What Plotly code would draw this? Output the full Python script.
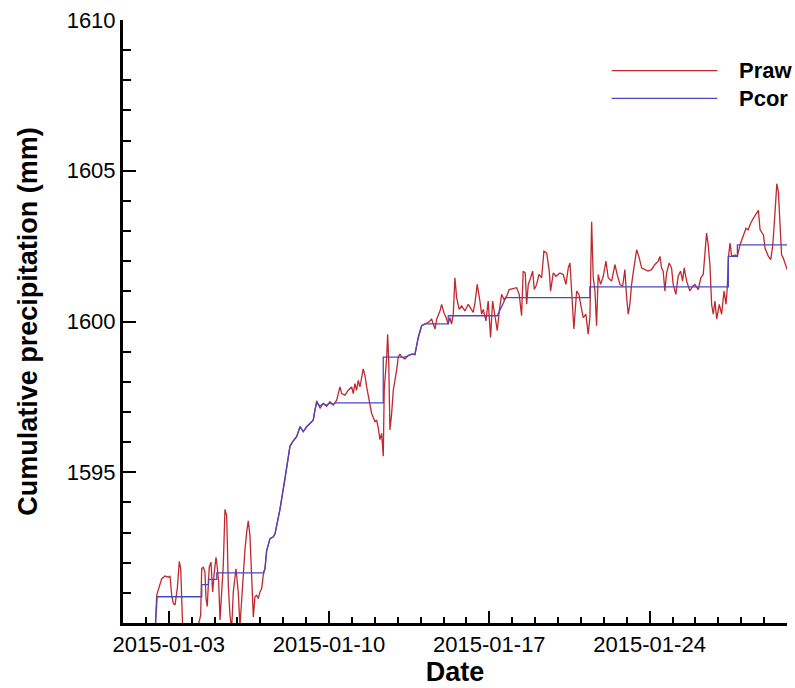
import pandas as pd
import plotly.graph_objects as go

# ---- data (hours since 2015-01-01 00:00, cumulative precipitation in mm) ----
praw_hours = [
    33.5, 35.3, 40.6, 44.0, 47.5, 49.3, 51.0, 52.7, 54.5, 56.9, 59.0, 60.5, 62.6, 70.2, 76.5,
    81.4, 82.5, 84.2, 85.9, 87.0, 88.3, 90.4, 92.2, 94.0, 95.7, 97.5, 98.8, 100.3, 101.7, 103.4,
    105.1, 106.9, 108.7, 110.4, 112.1, 113.9, 115.6, 118.4, 120.8, 122.6, 125.4, 127.9, 129.6,
    131.3, 133.1, 134.9, 136.6, 138.3, 140.1, 141.8, 143.6, 145.4, 147.0,
    148.8, 150.6, 154.1, 157.5, 159.3, 164.5, 169.8, 175.0, 177.9, 182.0, 185.5, 189.0, 192.5,
    196.0, 199.4, 201.2, 203.0, 206.5, 209.9, 213.5, 216.9, 220.4, 222.2,
    224.0, 227.4, 229.2, 232.7, 236.1, 239.7, 241.4, 243.1, 244.9, 246.6, 248.4, 251.8, 253.6,
    255.4, 258.9, 260.6, 264.1, 265.9, 267.6, 269.3, 271.1, 272.8, 273.8, 276.4, 277.4, 278.5,
    279.8, 281.6, 283.3, 285.1, 286.8, 288.5, 290.3, 292.1, 295.5, 299.0, 302.6, 306.0, 309.5,
    313.0, 316.5, 320.0, 323.5, 327.0, 328.8, 332.2, 334.0, 336.4, 339.2, 340.9, 342.7, 344.4,
    346.2, 347.9, 349.7, 352.4, 354.9, 358.4, 361.9, 365.4, 367.1, 368.9, 371.3, 374.1, 375.9,
    377.6, 380.4, 382.8, 385.3, 387.4, 389.9, 392.3, 394.4,
    396.9, 399.3, 402.2, 404.8, 409.0, 412.6, 415.3, 417.8, 419.5, 421.6, 423.1, 424.8, 427.3,
    429.4, 431.1, 433.6, 436.0, 438.8, 441.2, 444.1, 446.8, 448.2, 451.0, 453.8, 458.0, 461.4,
    464.3, 466.7, 468.5, 470.2, 472.6, 475.5, 477.9, 480.0, 482.4, 485.2, 487.6, 489.4, 491.2,
    492.9, 494.7, 496.4, 498.1, 500.6, 503.4, 506.2, 508.6, 512.2, 515.6, 518.0, 520.9, 523.7,
    526.1, 527.9, 529.6, 531.3, 533.1, 535.5, 538.4, 541.1, 543.6, 547.1, 550.5, 554.1, 557.5,
    561.0,
    562.8, 564.5, 566.2, 568.0, 569.8, 572.5, 575.0, 576.7, 579.5, 581.9, 584.5, 586.6, 588.2,
    590.8, 594.2, 597.1, 599.5, 603.0, 605.7, 608.2, 610.0, 611.7, 613.4, 615.2, 617.0, 618.7,
    620.5, 622.3, 625.0, 627.5, 630.0, 632.1, 633.4, 634.5, 636.3, 638.0, 641.5, 643.9, 646.7,
    650.2, 653.0, 655.4, 657.9, 660.7, 664.3, 666.0, 667.8, 671.3, 673.0, 676.5, 679.0, 681.1,
    683.5, 685.3, 687.0, 688.5, 690.3, 692.0, 694.5, 696.2,
]
praw_mm = [
    1589.5, 1590.92, 1591.47, 1591.56, 1591.52, 1591.56, 1590.92, 1590.66, 1590.59, 1591.14, 1592.04, 1591.80, 1589.8, 1589.5, 1589.6,
    1590.26, 1591.81, 1591.85, 1591.69, 1590.82, 1590.55, 1591.85, 1592.02, 1591.03, 1591.69, 1592.18, 1591.85, 1591.36, 1590.1, 1591.25,
    1591.91, 1593.77, 1593.55, 1591.25, 1590.26, 1589.8, 1591.03, 1591.80, 1591.03, 1589.9, 1591.36, 1592.46, 1593.00,
    1593.39, 1592.89, 1591.58, 1590.2, 1590.87, 1590.92, 1590.81, 1591.03, 1591.14, 1591.58,
    1591.80, 1592.40, 1592.80, 1592.86, 1592.95, 1593.77, 1594.76, 1595.86, 1596.02, 1596.18, 1596.51, 1596.35, 1596.51,
    1596.62, 1596.73, 1597.06, 1597.37, 1597.12, 1597.28, 1597.19, 1597.34, 1597.23, 1597.30,
    1597.39, 1597.83, 1597.61, 1597.56, 1597.72, 1597.83, 1597.61, 1597.94, 1597.72, 1598.05, 1597.83, 1598.43, 1598.21,
    1597.83, 1597.28, 1596.95, 1596.68, 1596.73, 1596.46, 1596.08, 1596.29, 1595.53, 1597.72, 1598.82, 1599.58, 1598.71,
    1596.40, 1596.95, 1597.72, 1598.05, 1598.38, 1598.82, 1598.92, 1598.82, 1598.76, 1598.87, 1598.92, 1598.90, 1599.47,
    1599.86, 1599.91, 1599.97, 1600.08, 1599.75, 1600.08, 1600.35, 1600.57, 1600.30, 1600.08, 1599.91, 1600.13, 1599.91,
    1600.24, 1601.45, 1600.79, 1600.40, 1600.52, 1600.35, 1600.57, 1600.40, 1600.30, 1600.62, 1601.23, 1600.68, 1600.24,
    1600.40, 1600.02, 1600.68, 1599.47, 1600.68, 1600.13, 1599.70, 1600.35,
    1600.90, 1600.73, 1600.84, 1601.06, 1601.10, 1601.12, 1600.90, 1600.19, 1601.67, 1601.61, 1600.57, 1601.23, 1601.45,
    1601.67, 1601.06, 1601.23, 1601.56, 1601.45, 1602.33, 1602.27, 1601.67, 1601.01, 1601.61, 1601.50, 1601.61, 1601.56,
    1601.23, 1601.78, 1601.94, 1601.17, 1599.75, 1601.01, 1600.90, 1600.52, 1600.13, 1600.24, 1599.58, 1600.13, 1603.31,
    1601.45, 1601.01, 1599.86, 1601.56, 1601.23, 1601.50, 1602.00, 1601.45, 1601.34, 1601.89, 1601.56, 1601.23, 1601.17,
    1601.72, 1600.79, 1600.24, 1600.57, 1601.23, 1601.78, 1602.38, 1602.11, 1601.78, 1601.72, 1601.67, 1601.72, 1601.89,
    1602.00,
    1602.16, 1601.78, 1601.67, 1601.01, 1601.61, 1601.94, 1601.78, 1601.23, 1600.90, 1601.50, 1601.67, 1601.34, 1601.78,
    1601.34, 1601.01, 1601.17, 1601.23, 1601.06, 1601.45, 1601.56, 1602.33, 1602.93, 1602.54, 1601.89, 1600.57, 1600.24,
    1600.68, 1600.08, 1600.57, 1600.24, 1601.01, 1600.57, 1601.12, 1602.11, 1602.60, 1602.16, 1602.21, 1602.16, 1602.54,
    1602.87, 1603.09, 1603.04, 1603.26, 1603.42, 1603.64, 1603.69, 1603.04, 1602.87, 1602.43, 1602.16, 1602.05, 1602.54,
    1603.64, 1604.57, 1604.30, 1603.20, 1602.21, 1602.11, 1601.89, 1601.72,
]

pcor_hours = [
    33.0, 35.8, 82.5, 82.5, 89.6, 89.6, 98.3, 98.3, 147.0,
    148.8, 150.6, 154.1, 157.5, 159.3, 164.5, 169.8, 175.0, 177.9, 182.0, 185.5, 189.0, 192.5,
    196.0, 199.4, 201.2, 203.0, 206.5, 209.9, 213.5, 216.9, 220.4, 222.2,
    272.8, 272.8, 295.5, 299.0, 302.6, 306.0, 309.5, 313.0, 316.5, 340.9, 340.9, 392.3, 401.3,
    489.4, 489.4, 634.5, 634.5, 644.0, 644.0, 697.0,
]
pcor_mm = [
    1589.4, 1590.87, 1590.87, 1591.27, 1591.27, 1591.45, 1591.45, 1591.66, 1591.66,
    1591.80, 1592.40, 1592.80, 1592.86, 1592.95, 1593.77, 1594.76, 1595.86, 1596.02, 1596.18, 1596.51, 1596.35, 1596.51,
    1596.62, 1596.73, 1597.06, 1597.30, 1597.20, 1597.28, 1597.22, 1597.30, 1597.25, 1597.30,
    1597.30, 1598.82, 1598.82, 1598.87, 1598.92, 1598.92, 1599.47, 1599.86, 1599.92, 1599.92, 1600.19, 1600.19, 1600.79,
    1600.79, 1601.15, 1601.15, 1602.16, 1602.16, 1602.54, 1602.54,
]

y_ticks = [1595, 1600, 1605, 1610]
series_names = ["Praw", "Pcor"]
series_colors = ["#c0282d", "#4848c4"]

start = pd.Timestamp("2015-01-01")
praw_t = start + pd.to_timedelta(praw_hours, unit="h")
pcor_t = start + pd.to_timedelta(pcor_hours, unit="h")

fig = go.Figure()
fig.add_trace(go.Scatter(x=praw_t, y=praw_mm, mode="lines", name=series_names[0],
                         line=dict(color=series_colors[0], width=1.3)))
fig.add_trace(go.Scatter(x=pcor_t, y=pcor_mm, mode="lines", name=series_names[1],
                         line=dict(color=series_colors[1], width=1.3)))

font_family = "Liberation Sans, Arial, sans-serif"
fig.update_layout(
    width=795, height=688,
    margin=dict(l=123, r=8, t=20, b=60),
    plot_bgcolor="white", paper_bgcolor="white",
    showlegend=False,
    font=dict(family=font_family, color="black"),
)
fig.update_xaxes(
    type="date",
    range=["2015-01-01", "2015-01-30"],
    tick0="2015-01-03", dtick=7 * 86400000,
    tickformat="%Y-%m-%d",
    ticks="inside", ticklen=12, tickwidth=2, tickcolor="black",
    minor=dict(ticks="inside", ticklen=6, tickwidth=1.5, tickcolor="black",
               dtick=86400000, tick0="2015-01-01", showgrid=False),
    showline=True, linewidth=3, linecolor="black",
    showgrid=False, zeroline=False,
    tickfont=dict(size=22, family=font_family, color="black"),
    title=dict(text="<b>Date</b>", font=dict(size=27, family=font_family, color="black"), standoff=4),
)
fig.update_yaxes(
    range=[1590, 1610],
    tickvals=y_ticks,
    ticks="inside", ticklen=13, tickwidth=2, tickcolor="black",
    minor=dict(ticks="inside", ticklen=8, tickwidth=1.5, tickcolor="black", dtick=1, tick0=1590, showgrid=False),
    showline=True, linewidth=3, linecolor="black",
    showgrid=False, zeroline=False,
    tickfont=dict(size=22, family=font_family, color="black"),
    title=dict(text="<b>Cumulative precipitation (mm)</b>",
               font=dict(size=27, family=font_family, color="black"), standoff=22),
)

# legend drawn as long line samples with labels (as in the reference)
leg_y = [0.916, 0.870]
for name, color, yy in zip(series_names, series_colors, leg_y):
    fig.add_shape(type="line", xref="paper", yref="paper", x0=0.736, x1=0.895, y0=yy, y1=yy,
                  line=dict(color=color, width=1.3))
    fig.add_annotation(xref="paper", yref="paper", x=0.924, y=yy, xanchor="left", yanchor="middle",
                       text="<b>%s</b>" % name, showarrow=False,
                       font=dict(size=22, family=font_family, color="black"))

fig.write_html("out.html")
